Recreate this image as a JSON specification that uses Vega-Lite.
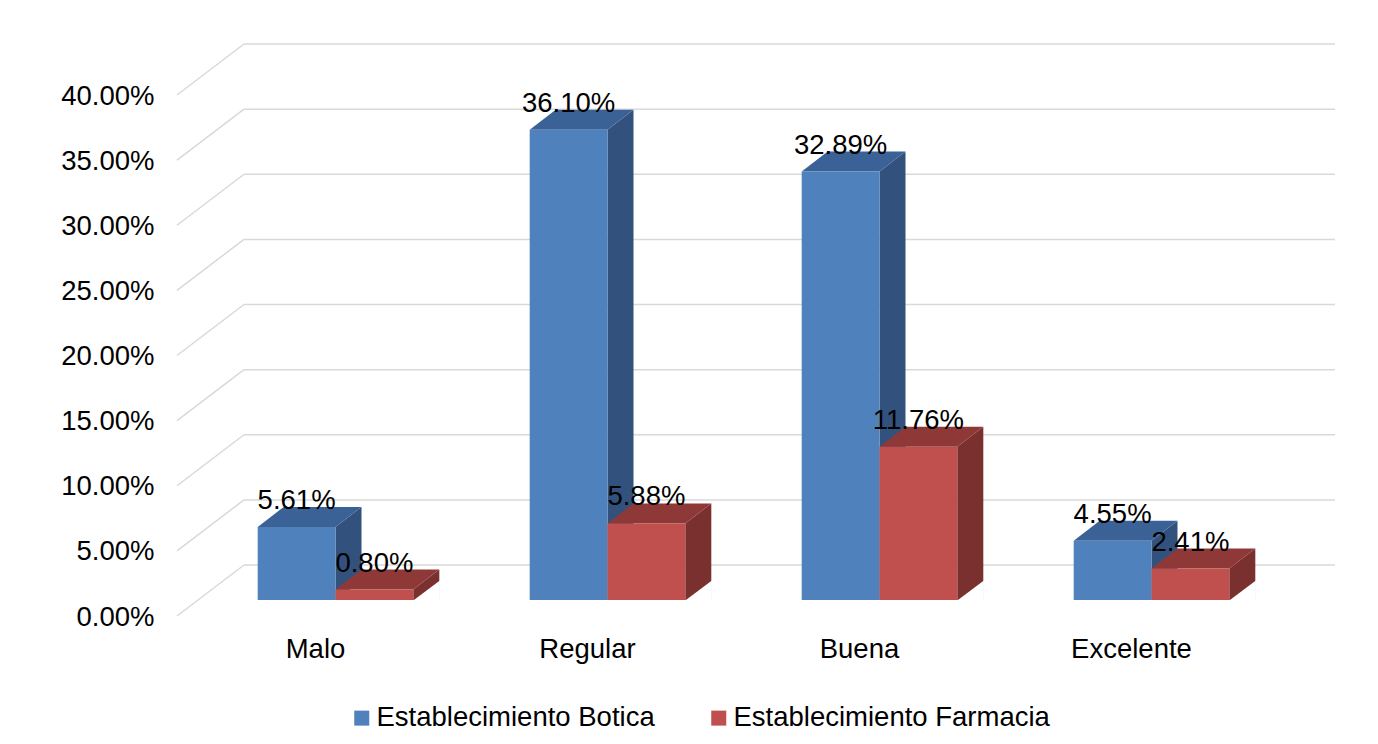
{
  "$schema": "https://vega.github.io/schema/vega-lite/v6.json",
  "width": 1091,
  "height": 521,
  "autosize": "none",
  "padding": {"left": 198, "top": 79, "right": 89, "bottom": 144},
  "background": "white",
  "config": {"view": {"stroke": null}, "font": "Liberation Sans"},
  "datasets": {
    "grid": [
      {"v": 0}, {"v": 0.05}, {"v": 0.1}, {"v": 0.15}, {"v": 0.2},
      {"v": 0.25}, {"v": 0.3}, {"v": 0.35}, {"v": 0.4}
    ],
    "calificacion": [
      {"cat": "Malo", "serie": "Establecimiento Botica", "v": 0.0561},
      {"cat": "Malo", "serie": "Establecimiento Farmacia", "v": 0.0080},
      {"cat": "Regular", "serie": "Establecimiento Botica", "v": 0.3610},
      {"cat": "Regular", "serie": "Establecimiento Farmacia", "v": 0.0588},
      {"cat": "Buena", "serie": "Establecimiento Botica", "v": 0.3289},
      {"cat": "Buena", "serie": "Establecimiento Farmacia", "v": 0.1176},
      {"cat": "Excelente", "serie": "Establecimiento Botica", "v": 0.0455},
      {"cat": "Excelente", "serie": "Establecimiento Farmacia", "v": 0.0241}
    ]
  },
  "layer": [
    {
      "data": {"name": "grid"},
      "mark": {"type": "rule", "color": "#d9d9d9", "strokeWidth": 1.5, "xOffset": 46, "x2Offset": 46, "yOffset": -35, "y2Offset": -35},
      "encoding": {
        "x": {"datum": 0, "type": "quantitative", "scale": {"domain": [0, 1]}, "axis": null},
        "x2": {"datum": 1},
        "y": {
          "field": "v", "type": "quantitative",
          "scale": {"domain": [0, 0.4], "nice": false},
          "axis": {
            "title": null, "format": ".2%", "grid": false, "ticks": false, "domain": false,
            "values": [0, 0.05, 0.1, 0.15, 0.2, 0.25, 0.3, 0.35, 0.4],
            "labelFontSize": 27.5, "labelColor": "#000000",
            "labelPadding": 44, "labelOffset": 17
          }
        },
        "y2": {"field": "v"}
      }
    },
    {
      "data": {"name": "grid"},
      "mark": {"type": "rule", "color": "#d9d9d9", "strokeWidth": 1.5, "xOffset": -21, "x2Offset": 46, "yOffset": 16, "y2Offset": -35},
      "encoding": {
        "x": {"datum": 0, "type": "quantitative", "scale": {"domain": [0, 1]}, "axis": null},
        "x2": {"datum": 0},
        "y": {"field": "v", "type": "quantitative"},
        "y2": {"field": "v"}
      }
    },
    {
      "data": {"name": "calificacion"},
      "encoding": {
        "x": {
          "field": "cat", "type": "nominal",
          "sort": ["Malo", "Regular", "Buena", "Excelente"],
          "scale": {"paddingInner": 0.428, "paddingOuter": 0.2195},
          "axis": {
            "title": null, "labelAngle": 0, "ticks": false, "domain": false,
            "labelFontSize": 27.5, "labelColor": "#000000",
            "labelPadding": 35, "labelOffset": -20
          }
        },
        "xOffset": {"field": "serie", "type": "nominal"}
      },
      "layer": [
        {
          "mark": {"type": "point", "filled": true, "opacity": 1, "size": 4, "strokeWidth": 0, "clip": true, "shape": "M38.9,0L64.9,-20L64.9,700L38.9,700Z"},
          "encoding": {
            "y": {"field": "v", "type": "quantitative"},
            "color": {"field": "serie", "type": "nominal", "scale": {"range": ["#32527d", "#7a302e"]}, "legend": null}
          }
        },
        {
          "mark": {"type": "point", "filled": true, "opacity": 1, "size": 4, "strokeWidth": 0, "color": "white", "shape": "M38.9,0.6L65.5,-19.4L65.5,1L38.9,1Z"},
          "encoding": {
            "y": {"datum": 0, "type": "quantitative"}
          }
        },
        {
          "mark": {"type": "point", "filled": true, "opacity": 1, "size": 4, "strokeWidth": 0, "shape": "M-38.9,0L38.9,0L64.9,-20L-12.9,-20Z"},
          "encoding": {
            "y": {"field": "v", "type": "quantitative"},
            "color": {"field": "serie", "type": "nominal", "scale": {"range": ["#3b6296", "#8e3937"]}, "legend": null}
          }
        },
        {
          "mark": {"type": "bar"},
          "encoding": {
            "y": {"field": "v", "type": "quantitative"},
            "color": {
              "field": "serie", "type": "nominal",
              "scale": {"range": ["#4f81bd", "#c0504d"]},
              "legend": {
                "title": null, "orient": "none", "legendX": 150, "legendY": 625,
                "direction": "horizontal", "symbolType": "square", "symbolSize": 225,
                "symbolStrokeWidth": 0, "labelFontSize": 27.5, "labelColor": "#000000",
                "labelLimit": 600, "columnPadding": 50, "labelOffset": 1
              }
            }
          }
        },
        {
          "mark": {"type": "text", "baseline": "alphabetic", "align": "center", "dy": -18, "fontSize": 27.5, "color": "#000000"},
          "encoding": {
            "y": {"field": "v", "type": "quantitative"},
            "text": {"field": "v", "type": "quantitative", "format": ".2%"}
          }
        }
      ],
      "resolve": {"scale": {"color": "independent"}}
    }
  ],
  "resolve": {"scale": {"x": "independent"}}
}
